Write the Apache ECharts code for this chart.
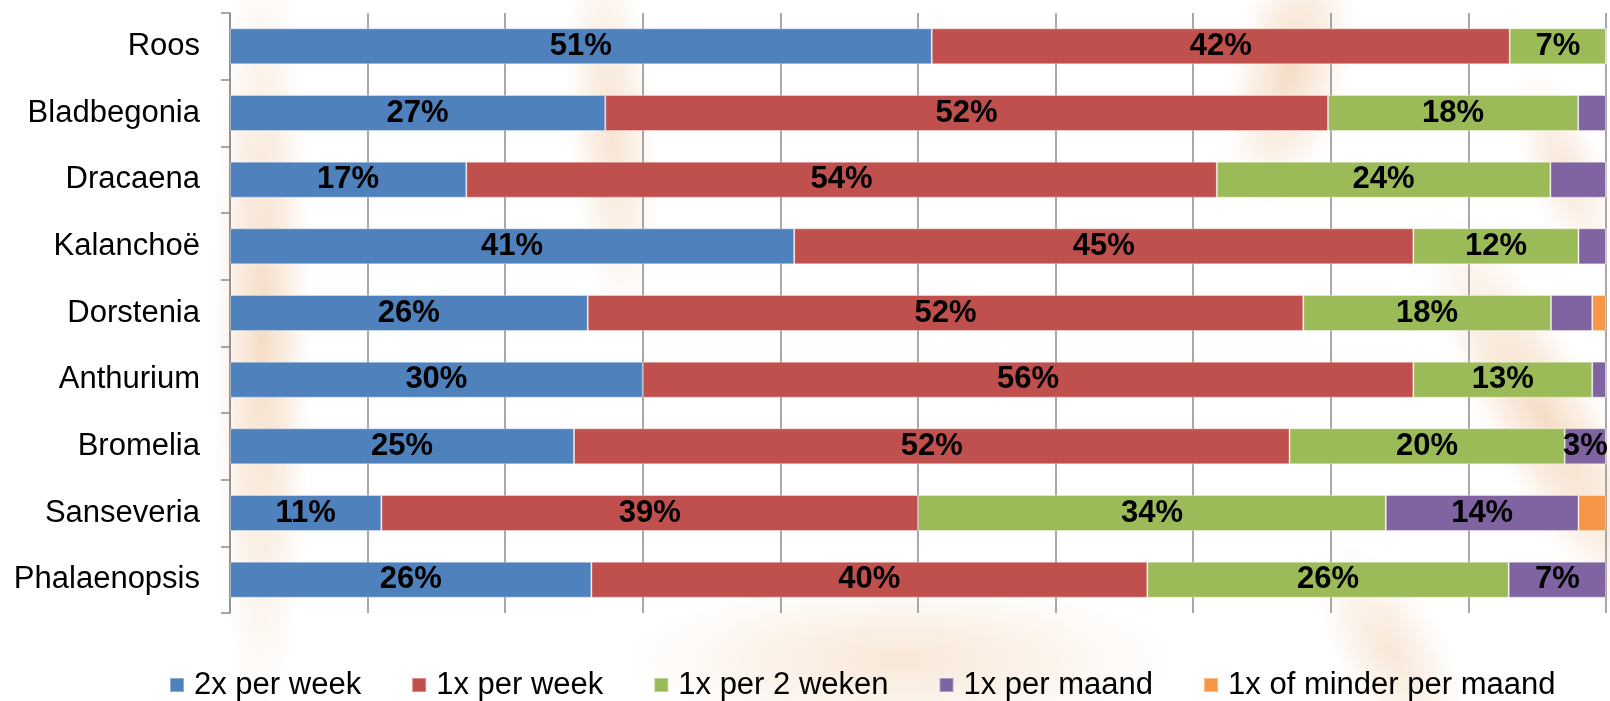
<!DOCTYPE html>
<html>
<head>
<meta charset="utf-8">
<title>Water geven per plantsoort</title>
<script src="https://cdn.jsdelivr.net/npm/echarts@6/dist/echarts.min.js"></script>
<style>
  html, body { margin: 0; padding: 0; background: #ffffff; }
  #chart { width: 1610px; height: 701px; }
</style>
</head>
<body>
<div id="chart"></div>
<script>
// Plant types, top to bottom
const categories = ['Roos', 'Bladbegonia', 'Dracaena', 'Kalanchoë', 'Dorstenia', 'Anthurium', 'Bromelia', 'Sanseveria', 'Phalaenopsis'];

// Share of respondents per watering frequency (%)
const twicePerWeek    = [51, 27, 17, 41, 26, 30, 25, 11, 26];
const oncePerWeek     = [42, 52, 54, 45, 52, 56, 52, 39, 40];
const everyTwoWeeks   = [7, 18, 24, 12, 18, 13, 20, 34, 26];
const oncePerMonth    = [0, 2, 4, 2, 3, 1, 3, 14, 7];
const lessThanMonthly = [0, 0, 0, 0, 1, 0, 0, 2, 0];

const seriesNames = ['2x per week', '1x per week', '1x per 2 weken', '1x per maand', '1x of minder per maand'];
const seriesColors = ['#4F81BD', '#C0504D', '#9BBB59', '#8064A2', '#F79646'];

// Which segments carry a value label
const labelledMonthly = ['Bromelia', 'Sanseveria', 'Phalaenopsis'];

const FONT = '"Liberation Sans", Arial, sans-serif';

const allSeries = [twicePerWeek, oncePerWeek, everyTwoWeeks, oncePerMonth, lessThanMonthly];
// Row totals: each bar is drawn as a 100% stack of its row
const rowTotals = categories.map((_, i) => allSeries.reduce((s, arr) => s + arr[i], 0));

function buildData(values, seriesIndex) {
  return values.map((v, i) => {
    let show = true;
    if (seriesIndex === 3) show = labelledMonthly.indexOf(categories[i]) >= 0;
    if (seriesIndex === 4) show = false;
    return {
      value: v / rowTotals[i] * 100,
      raw: v,
      label: { show: show && v > 0 }
    };
  });
}

// Soft peach decoration behind the plot: a unit circle with a radial
// fade, stretched and turned into an elongated petal
function petal(x, y, rx, ry, rot, alpha) {
  const R = 50;
  return {
    type: 'circle',
    silent: true,
    z: -10,
    x: x, y: y,
    scaleX: rx / R,
    scaleY: ry / R,
    rotation: rot * Math.PI / 180,
    shape: { cx: 0, cy: 0, r: R },
    style: {
      fill: {
        type: 'radial', x: 0.5, y: 0.5, r: 0.5,
        colorStops: [
          { offset: 0, color: 'rgba(236,186,140,' + alpha + ')' },
          { offset: 0.55, color: 'rgba(240,196,156,' + (alpha * 0.55) + ')' },
          { offset: 1, color: 'rgba(245,210,180,0)' }
        ]
      }
    }
  };
}

const chart = echarts.init(document.getElementById('chart'), null, { renderer: 'canvas' });

chart.setOption({
  animation: false,
  backgroundColor: '#ffffff',
  textStyle: { fontFamily: FONT },
  graphic: [
    petal(262, 330, 50, 400, 0, 0.5),
    petal(612, 130, 45, 200, 4, 0.4),
    petal(1290, 70, 60, 140, -12, 0.5),
    petal(1545, 420, 60, 240, 28, 0.5),
    petal(900, 660, 280, 80, 0, 0.35),
    petal(1390, 650, 55, 120, 30, 0.35),
    petal(1565, 170, 40, 110, 20, 0.35)
  ],
  grid: { left: 230, right: 4, top: 13, bottom: 88, containLabel: false },
  legend: {
    data: seriesNames,
    left: 164,
    top: 664,
    itemWidth: 14,
    itemHeight: 14,
    itemGap: 50,
    icon: 'rect',
    textStyle: {
      fontFamily: FONT,
      fontSize: 31,
      color: '#000000',
      lineHeight: 32,
      padding: [0, 0, 0, 5]
    }
  },
  xAxis: {
    type: 'value',
    min: 0,
    max: 100,
    interval: 10,
    axisLabel: { show: false },
    axisLine: { show: false },
    axisTick: { show: false },
    splitLine: { show: true, lineStyle: { color: '#8c8c8c', width: 1.5 } }
  },
  yAxis: {
    type: 'category',
    inverse: true,
    data: categories,
    axisLine: { show: true, lineStyle: { color: '#8c8c8c', width: 1.5 } },
    axisTick: { show: true, length: 9, lineStyle: { color: '#8c8c8c', width: 1.5 } },
    axisLabel: { margin: 30, fontSize: 31, color: '#000000', fontFamily: FONT }
  },
  series: allSeries.map((values, k) => ({
    name: seriesNames[k],
    type: 'bar',
    stack: 'total',
    barWidth: 36,
    itemStyle: {
      color: seriesColors[k],
      borderColor: 'rgba(255,255,255,0.35)',
      borderWidth: 1
    },
    label: {
      position: 'inside',
      color: '#000000',
      fontFamily: FONT,
      fontWeight: 'bold',
      fontSize: 31,
      formatter: p => p.data.raw + '%'
    },
    data: buildData(values, k)
  }))
});
</script>
</body>
</html>
